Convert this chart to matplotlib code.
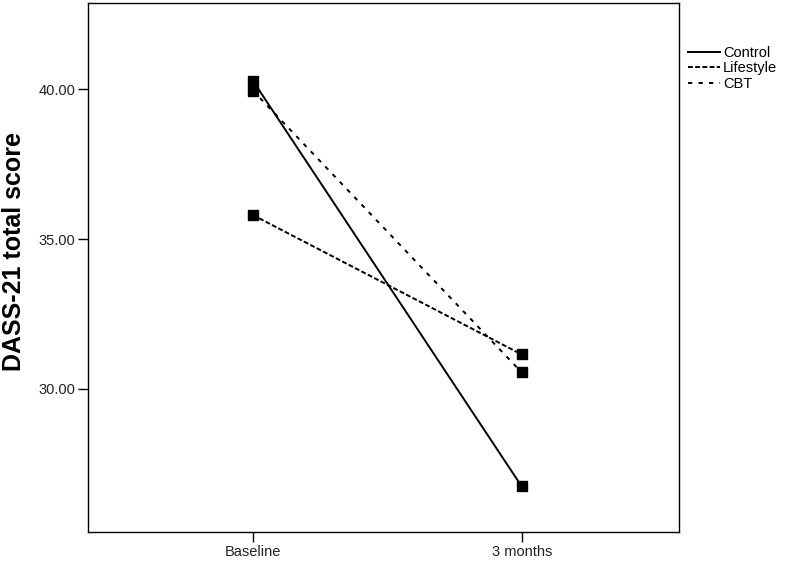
import matplotlib
matplotlib.use('Agg')
import matplotlib.pyplot as plt
from matplotlib.lines import Line2D

# --- Data ---
timepoints = ['Baseline', '3 months']
control = [40.28, 26.75]
lifestyle = [35.8, 31.15]
cbt = [39.95, 30.55]
y_ticks = [30, 35, 40]

plt.rcParams['font.family'] = ['Liberation Sans', 'DejaVu Sans']

fig = plt.figure(figsize=(7.87, 5.62), dpi=100)
ax = fig.add_axes([88 / 787, 1 - 532 / 562, (679 - 88) / 787, (532 - 3) / 562])

x = range(len(timepoints))
styles = {
    'Control': (control, '-'),
    'Lifestyle': (lifestyle, (0, (2.5, 1.2))),
    'CBT': (cbt, (0, (2.2, 3.2))),
}
for name, (vals, ls) in styles.items():
    ax.plot(x, vals, color='black', linestyle=ls, linewidth=1.4,
            marker='s', markersize=7, markerfacecolor='black', markeredgecolor='black')

ax.set_xlim(-0.613, 1.585)
ax.set_ylim(25.23, 42.87)
ax.set_xticks(list(x))
ax.set_xticklabels(timepoints, fontsize=10.5, color='#222222')
ax.set_yticks(y_ticks)
ax.set_yticklabels([f'{v:.2f}' for v in y_ticks], fontsize=10.5, color='#222222')
ax.tick_params(direction='out', length=7, width=1, pad=2)
for sp in ax.spines.values():
    sp.set_linewidth(1)
ax.set_ylabel('DASS-21 total score', fontsize=18, fontweight='bold')
ax.yaxis.set_label_coords(-0.105, 0.53)

handles = [Line2D([], [], color='black', linestyle=ls, linewidth=1.4)
           for _, (_, ls) in styles.items()]
fig.legend(handles, list(styles.keys()), loc='upper left',
           bbox_to_anchor=(688 / 787, 1 - 46 / 562), frameon=False,
           fontsize=10.5, handlelength=2.2, handletextpad=0.2,
           labelspacing=0.1, borderpad=0, borderaxespad=0)

fig.savefig('out.png', dpi=100)
